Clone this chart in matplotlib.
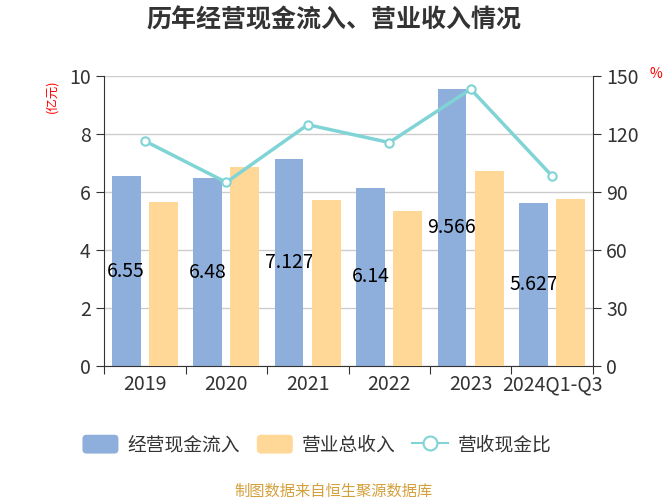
import matplotlib
matplotlib.use('Agg')
import matplotlib.pyplot as plt
from matplotlib.lines import Line2D
from matplotlib.patches import Patch, FancyBboxPatch
from matplotlib.legend_handler import HandlerPatch
import numpy as np

plt.rcParams['font.family'] = ['Noto Sans CJK SC', 'DejaVu Sans']

years = ['2019', '2020', '2021', '2022', '2023', '2024Q1-Q3']
cash_in = [6.55, 6.48, 7.127, 6.14, 9.566, 5.627]
revenue = [5.66, 6.86, 5.74, 5.33, 6.72, 5.75]
ratio = [116.4, 95.0, 124.8, 115.6, 143.2, 98.2]

blue = '#8eaedb'
orange = '#ffd898'
teal = '#80d4d6'
axis_c = '#333333'


class RoundBox(HandlerPatch):
    def create_artists(self, legend, orig_handle, xdescent, ydescent,
                       width, height, fontsize, trans):
        p = FancyBboxPatch((-xdescent, -ydescent), width, height,
                           boxstyle='round,pad=0,rounding_size=3',
                           facecolor=orig_handle.get_facecolor(),
                           edgecolor='none', transform=trans)
        return [p]


fig = plt.figure(figsize=(6.67, 5), dpi=100)
ax = fig.add_axes([0.156, 0.268, 0.733, 0.58])

x = np.arange(len(years))
w = 0.355
ax.bar(x - 0.23, cash_in, w, color=blue, zorder=2)
ax.bar(x + 0.225, revenue, w, color=orange, zorder=3)
# labels sit between the two bar series, so the orange bars cover overflow
for xi, v in zip(x, cash_in):
    ax.text(xi - 0.23, v / 2, f'{v:g}', ha='center', va='center',
            fontsize=14, color='black', zorder=2.5)

ax.set_xlim(-0.5, len(years) - 0.5)
ax.set_ylim(0, 10)
ax.set_yticks(range(0, 11, 2))
ax.grid(axis='y', color='#cccccc', linewidth=1, zorder=0)
ax.set_xticks(np.arange(-0.5, len(years), 1))
ax.set_xticklabels([])
ax.set_xticks(x, minor=True)
ax.set_xticklabels(years, minor=True)
ax.tick_params(axis='x', which='minor', length=0, labelsize=14,
               labelcolor=axis_c, pad=6)
ax.tick_params(axis='x', which='major', length=6, color=axis_c)
ax.tick_params(axis='y', length=6, color=axis_c, labelsize=14,
               labelcolor=axis_c)
for s in ['top', 'right']:
    ax.spines[s].set_visible(False)
ax.spines['left'].set_color(axis_c)
ax.spines['bottom'].set_color(axis_c)

ax2 = ax.twinx()
ax2.plot(x, ratio, color=teal, linewidth=2.5, marker='o', markersize=6,
         markerfacecolor='white', markeredgecolor=teal, markeredgewidth=1.5,
         zorder=4)
ax2.set_ylim(0, 150)
ax2.set_yticks(range(0, 151, 30))
ax2.tick_params(axis='y', length=6, color=axis_c, labelsize=14,
                labelcolor=axis_c)
for s in ['top', 'left', 'bottom']:
    ax2.spines[s].set_visible(False)
ax2.spines['right'].set_color(axis_c)

fig.text(0.5, 0.96, '历年经营现金流入、营业收入情况', ha='center', va='center',
         fontsize=18, fontweight='bold', color='#333333')
fig.text(0.078, 0.808, '(亿元)', rotation=90, ha='center', va='center',
         fontsize=9, color='red')
fig.text(0.984, 0.852, '%', ha='center', va='center', fontsize=10, color='red')

handles = [
    Patch(facecolor=blue),
    Patch(facecolor=orange),
    Line2D([], [], color=teal, linewidth=1.5, marker='o', markersize=10,
           markerfacecolor='white', markeredgecolor=teal, markeredgewidth=1.5),
]
fig.legend(handles, ['经营现金流入', '营业总收入', '营收现金比'],
           loc='center', bbox_to_anchor=(0.475, 0.11), ncol=3, frameon=False,
           fontsize=13.5, handlelength=1.92, handleheight=1.17,
           columnspacing=0.9, handletextpad=0.48, labelcolor='#333333',
           handler_map={Patch: RoundBox()})

fig.text(0.5, 0.017, '制图数据来自恒生聚源数据库', ha='center', va='center',
         fontsize=11, color='#d4a03c')

fig.savefig('out.png', dpi=100)
